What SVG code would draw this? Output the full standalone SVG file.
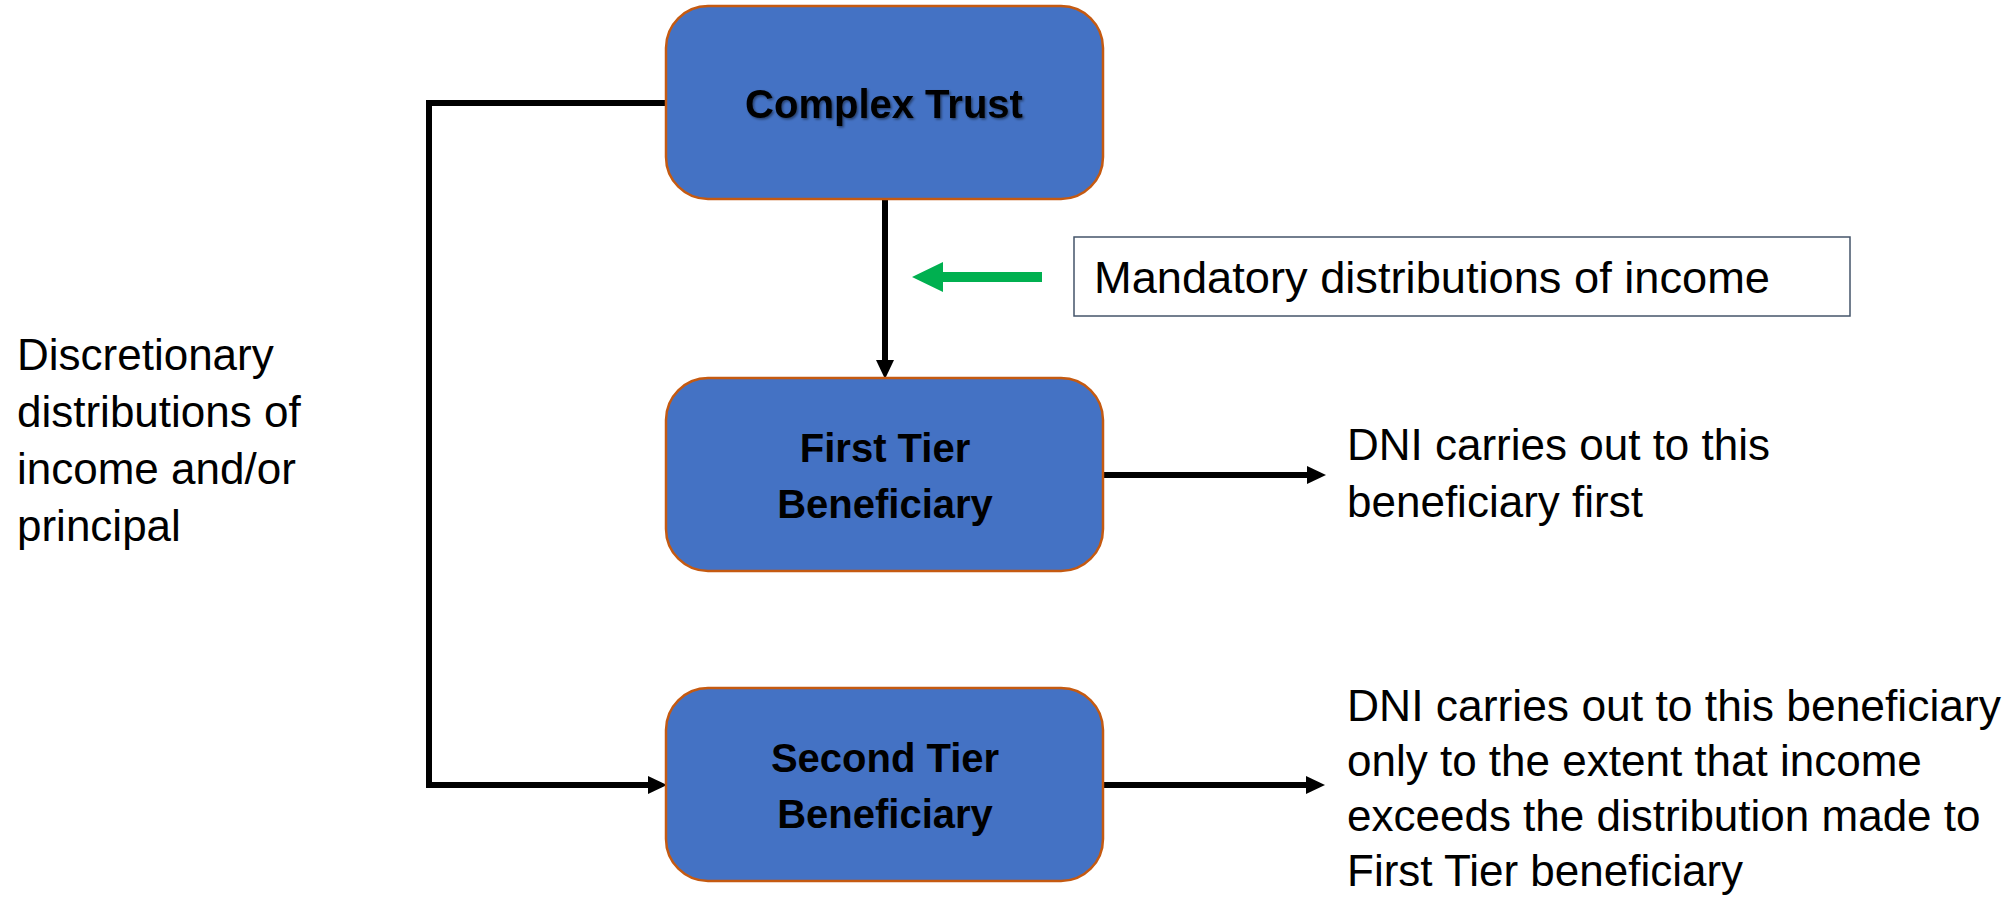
<svg xmlns="http://www.w3.org/2000/svg" width="2015" height="900" viewBox="0 0 2015 900">
  <style>
    .node { fill: #4472C4; stroke: #C55A11; stroke-width: 2.5; }
    .ntext { font-family: "Liberation Sans", Arial, sans-serif; font-weight: bold; font-size: 40px; fill: #000; text-anchor: middle; }
    .label { font-family: "Liberation Sans", Arial, sans-serif; font-size: 44px; fill: #000; }
    .conn { fill: none; stroke: #000; stroke-width: 6; stroke-linejoin: miter; }
  </style>
  <defs>
    <marker id="arrow" markerUnits="userSpaceOnUse" markerWidth="19" markerHeight="18" refX="0" refY="9" orient="auto">
      <path d="M0,0 L19,9 L0,18 Z" fill="#000"/>
    </marker>
    <filter id="shadow" x="-10%" y="-20%" width="120%" height="150%">
      <feDropShadow dx="1.5" dy="1.5" stdDeviation="1" flood-color="#000" flood-opacity="0.45"/>
    </filter>
  </defs>
  <rect width="2015" height="900" fill="#fff"/>

  <g id="connectors">
    <path class="conn" d="M885,199 V360" stroke-width="5" marker-end="url(#arrow)"/>
    <path class="conn" d="M666,103 H429 V785 H648" marker-end="url(#arrow)"/>
    <path class="conn" d="M1103,475 H1307" marker-end="url(#arrow)"/>
    <path class="conn" d="M1103,785 H1306" marker-end="url(#arrow)"/>
    <path id="green-arrow" d="M912,277 L943,262 L943,272 L1042,272 L1042,282 L943,282 L943,292 Z" fill="#00B050"/>
  </g>

  <g id="complex-trust">
    <rect class="node" x="666" y="6" width="437" height="193" rx="42" ry="42"/>
    <text class="ntext" x="884" y="118" filter="url(#shadow)">Complex Trust</text>
  </g>

  <g id="first-tier">
    <rect class="node" x="666" y="378" width="437" height="193" rx="42" ry="42"/>
    <text class="ntext" x="885" y="462">First Tier</text>
    <text class="ntext" x="885" y="518">Beneficiary</text>
  </g>

  <g id="second-tier">
    <rect class="node" x="666" y="688" width="437" height="193" rx="42" ry="42"/>
    <text class="ntext" x="885" y="772">Second Tier</text>
    <text class="ntext" x="885" y="828">Beneficiary</text>
  </g>

  <g id="mandatory">
    <rect x="1074" y="237" width="776" height="79" fill="#fff" stroke="#44546A" stroke-width="1.5"/>
    <text class="label" x="1094" y="293" textLength="676" lengthAdjust="spacingAndGlyphs">Mandatory distributions of income</text>
  </g>

  <g id="discretionary">
    <text class="label" x="17" y="370">Discretionary</text>
    <text class="label" x="17" y="427">distributions of</text>
    <text class="label" x="17" y="484">income and/or</text>
    <text class="label" x="17" y="541">principal</text>
  </g>

  <g id="first-note">
    <text class="label" x="1347" y="460">DNI carries out to this</text>
    <text class="label" x="1347" y="517">beneficiary first</text>
  </g>

  <g id="second-note">
    <text class="label" x="1347" y="721" textLength="654" lengthAdjust="spacingAndGlyphs">DNI carries out to this beneficiary</text>
    <text class="label" x="1347" y="776">only to the extent that income</text>
    <text class="label" x="1347" y="831">exceeds the distribution made to</text>
    <text class="label" x="1347" y="886">First Tier beneficiary</text>
  </g>
</svg>
